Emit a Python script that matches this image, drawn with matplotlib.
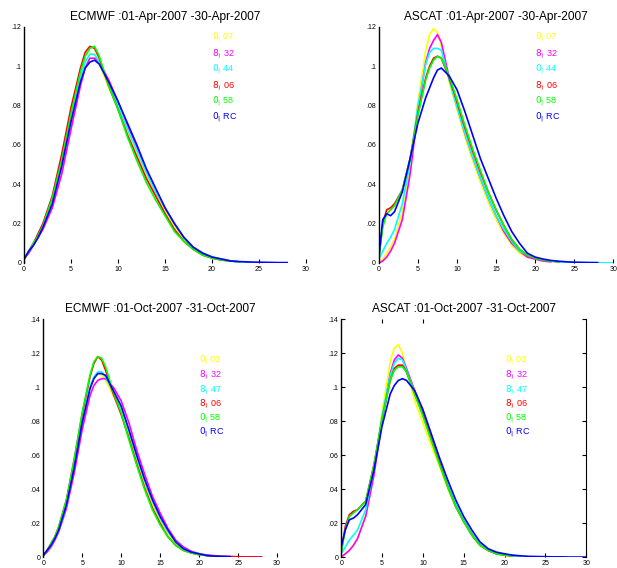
import numpy as np
import matplotlib
matplotlib.use("Agg")
import matplotlib.pyplot as plt

plt.rcParams['font.family'] = ['Liberation Sans', 'DejaVu Sans']

# common wind-speed grid (m/s)
xg = [0, 0.5, 1, 1.5, 2, 3, 4, 5, 6, 6.5, 7, 7.5, 8, 9, 10, 11, 12, 13, 14, 15,
      16, 17, 18, 19, 20, 21, 22, 23, 24, 25, 26, 27, 28, 29, 30]

colors = ['#ffff00', '#ff00ff', '#00ffff', '#ff0000', '#00ff00', '#0000ff']

titles = ["ECMWF :01-Apr-2007 -30-Apr-2007", "ASCAT :01-Apr-2007 -30-Apr-2007",
          "ECMWF :01-Oct-2007 -31-Oct-2007", "ASCAT :01-Oct-2007 -31-Oct-2007"]

labels_apr = ["$0_|$ 07", "$8_)$ 32", "$0_|$ 44", "$8_)$ 06", "$0_|$ 58", "$0_|$ RC"]
labels_oct = ["$0_|$ 03", "$8_)$ 32", "$8_)$ 47", "$8_)$ 06", "$0_|$ 58", "$0_|$ RC"]

# ECMWF April
ecm_apr_y = [0.002, 0.006, 0.010, 0.014, 0.019, 0.031, 0.050, 0.073, 0.094, 0.102, 0.106, 0.106, 0.101, 0.089,
             0.079, 0.066, 0.055, 0.044, 0.035, 0.026, 0.018, 0.012, 0.007, 0.004, 0.0025, 0.0015, 0.001, 0.0005]
ecm_apr_m = [0.002, 0.005, 0.009, 0.013, 0.017, 0.028, 0.045, 0.068, 0.090, 0.099, 0.104, 0.104, 0.102, 0.093,
             0.082, 0.070, 0.059, 0.047, 0.037, 0.028, 0.020, 0.013, 0.008, 0.005, 0.003, 0.002, 0.001, 0.0005]
ecm_apr_c = [0.002, 0.006, 0.010, 0.014, 0.019, 0.031, 0.050, 0.073, 0.094, 0.102, 0.106, 0.106, 0.102, 0.091,
             0.080, 0.068, 0.057, 0.046, 0.036, 0.028, 0.020, 0.013, 0.008, 0.005, 0.003, 0.002, 0.001, 0.0006, 0.0003]
ecm_apr_r = [0.002, 0.006, 0.010, 0.015, 0.020, 0.034, 0.055, 0.079, 0.099, 0.107, 0.110, 0.109, 0.104, 0.090,
             0.078, 0.065, 0.054, 0.043, 0.034, 0.025, 0.017, 0.011, 0.007, 0.004, 0.0025, 0.0015, 0.001]
ecm_apr_g = [0.002, 0.006, 0.010, 0.014, 0.019, 0.033, 0.052, 0.076, 0.097, 0.105, 0.109, 0.110, 0.105, 0.090,
             0.078, 0.064, 0.052, 0.041, 0.032, 0.024, 0.016, 0.011, 0.007, 0.004, 0.0025, 0.0015, 0.001, 0.0005]
ecm_apr_b = [0.002, 0.006, 0.009, 0.013, 0.018, 0.030, 0.049, 0.072, 0.092, 0.099, 0.102, 0.103, 0.101, 0.092,
             0.082, 0.071, 0.060, 0.048, 0.038, 0.028, 0.020, 0.013, 0.008, 0.005, 0.003, 0.002, 0.001, 0.0007,
             0.0005, 0.0004, 0.0003, 0.0002, 0.0002]

# ASCAT April
asc_apr_y = [0.000, 0.002, 0.005, 0.008, 0.012, 0.026, 0.048, 0.082, 0.108, 0.116, 0.119, 0.117, 0.110, 0.092,
             0.078, 0.064, 0.052, 0.041, 0.031, 0.022, 0.015, 0.009, 0.005, 0.003, 0.002, 0.001, 0.0006]
asc_apr_m = [0.000, 0.001, 0.003, 0.006, 0.010, 0.022, 0.045, 0.077, 0.102, 0.109, 0.113, 0.116, 0.112, 0.094,
             0.080, 0.066, 0.054, 0.043, 0.033, 0.024, 0.016, 0.010, 0.006, 0.003, 0.002, 0.001, 0.0006]
asc_apr_c = [0.002, 0.006, 0.010, 0.013, 0.017, 0.030, 0.051, 0.080, 0.101, 0.107, 0.109, 0.109, 0.108, 0.093,
             0.079, 0.066, 0.054, 0.043, 0.033, 0.024, 0.017, 0.011, 0.006, 0.004, 0.0025, 0.0015, 0.001, 0.0006,
             0.0004, 0.0003, 0.0002, 0.0002, 0.0001, 0.0001, 0.0001]
asc_apr_r = [0.003, 0.020, 0.027, 0.028, 0.030, 0.037, 0.053, 0.076, 0.094, 0.100, 0.104, 0.105, 0.104, 0.094,
             0.082, 0.069, 0.057, 0.046, 0.036, 0.027, 0.019, 0.012, 0.007, 0.004, 0.0025, 0.0015, 0.001, 0.0006]
asc_apr_g = [0.003, 0.018, 0.025, 0.027, 0.029, 0.037, 0.053, 0.075, 0.093, 0.099, 0.103, 0.105, 0.104, 0.095,
             0.083, 0.070, 0.058, 0.047, 0.036, 0.027, 0.019, 0.012, 0.007, 0.004, 0.0025, 0.0015, 0.001, 0.0006]
asc_apr_b = [0.003, 0.022, 0.025, 0.024, 0.026, 0.036, 0.053, 0.071, 0.084, 0.089, 0.094, 0.098, 0.099, 0.095,
             0.088, 0.077, 0.065, 0.053, 0.043, 0.033, 0.024, 0.016, 0.010, 0.005, 0.003, 0.002, 0.0013, 0.0009,
             0.0006, 0.0004, 0.0003, 0.0002, 0.0002]

# ECMWF October
ecm_oct_y = [0.001, 0.004, 0.007, 0.011, 0.016, 0.031, 0.054, 0.080, 0.100, 0.105, 0.108, 0.107, 0.104, 0.095,
             0.086, 0.072, 0.057, 0.043, 0.031, 0.022, 0.014, 0.008, 0.005, 0.003, 0.002, 0.001, 0.0006]
ecm_oct_m = [0.001, 0.003, 0.006, 0.010, 0.015, 0.029, 0.050, 0.075, 0.095, 0.101, 0.104, 0.105, 0.105, 0.100,
             0.092, 0.079, 0.063, 0.049, 0.036, 0.026, 0.017, 0.010, 0.006, 0.0035, 0.002, 0.0013, 0.0009, 0.0006,
             0.0004, 0.0003, 0.0002, 0.0002, 0.0001]
ecm_oct_c = [0.001, 0.004, 0.007, 0.011, 0.016, 0.031, 0.054, 0.080, 0.100, 0.106, 0.109, 0.109, 0.106, 0.097,
             0.088, 0.074, 0.059, 0.045, 0.033, 0.023, 0.015, 0.009, 0.005, 0.003, 0.002, 0.001, 0.0006, 0.0004]
ecm_oct_r = [0.001, 0.004, 0.008, 0.012, 0.018, 0.034, 0.058, 0.084, 0.106, 0.114, 0.118, 0.116, 0.110, 0.096,
             0.084, 0.070, 0.055, 0.041, 0.029, 0.020, 0.012, 0.007, 0.004, 0.0025, 0.0015, 0.001, 0.0006, 0.0004,
             0.0003, 0.0002, 0.0002, 0.0001, 0.0001]
ecm_oct_g = [0.001, 0.004, 0.008, 0.012, 0.018, 0.034, 0.058, 0.085, 0.107, 0.115, 0.118, 0.117, 0.112, 0.097,
             0.085, 0.069, 0.054, 0.040, 0.028, 0.019, 0.012, 0.007, 0.004, 0.0025, 0.0015, 0.001, 0.0006]
ecm_oct_b = [0.001, 0.004, 0.007, 0.011, 0.016, 0.031, 0.053, 0.079, 0.099, 0.105, 0.108, 0.108, 0.107, 0.098,
             0.089, 0.075, 0.060, 0.046, 0.034, 0.024, 0.016, 0.009, 0.005, 0.003, 0.002, 0.001, 0.0006, 0.0004,
             0.0003]

# ASCAT October
asc_oct_y = [0.000, 0.002, 0.004, 0.007, 0.011, 0.025, 0.050, 0.085, 0.115, 0.123, 0.125, 0.120, 0.110, 0.092,
             0.079, 0.066, 0.054, 0.041, 0.030, 0.021, 0.013, 0.007, 0.004, 0.002, 0.001, 0.0006]
asc_oct_m = [0.000, 0.002, 0.004, 0.007, 0.011, 0.024, 0.048, 0.080, 0.108, 0.116, 0.119, 0.117, 0.111, 0.098,
             0.086, 0.072, 0.058, 0.044, 0.032, 0.022, 0.014, 0.008, 0.004, 0.0025, 0.0015, 0.001, 0.0006]
asc_oct_c = [0.002, 0.006, 0.010, 0.013, 0.016, 0.028, 0.052, 0.083, 0.107, 0.114, 0.117, 0.116, 0.110, 0.097,
             0.085, 0.071, 0.057, 0.044, 0.032, 0.022, 0.014, 0.008, 0.004, 0.0025, 0.0015, 0.001, 0.0006]
asc_oct_r = [0.003, 0.018, 0.025, 0.027, 0.028, 0.033, 0.054, 0.081, 0.104, 0.111, 0.113, 0.113, 0.109, 0.096,
             0.084, 0.070, 0.056, 0.042, 0.030, 0.021, 0.013, 0.007, 0.004, 0.002, 0.0012, 0.0007]
asc_oct_g = [0.003, 0.016, 0.024, 0.026, 0.028, 0.033, 0.054, 0.081, 0.104, 0.110, 0.112, 0.112, 0.109, 0.096,
             0.083, 0.069, 0.055, 0.042, 0.030, 0.021, 0.013, 0.007, 0.004, 0.002, 0.0012, 0.0007]
asc_oct_b = [0.006, 0.016, 0.022, 0.023, 0.025, 0.031, 0.051, 0.077, 0.096, 0.101, 0.104, 0.105, 0.104, 0.098,
             0.087, 0.073, 0.059, 0.046, 0.034, 0.024, 0.016, 0.009, 0.005, 0.003, 0.002, 0.0012, 0.0008, 0.0005,
             0.0004, 0.0003, 0.0002, 0.0002, 0.0001, 0.0001, 0.0001]

panels = [
    [ecm_apr_y, ecm_apr_m, ecm_apr_c, ecm_apr_r, ecm_apr_g, ecm_apr_b],
    [asc_apr_y, asc_apr_m, asc_apr_c, asc_apr_r, asc_apr_g, asc_apr_b],
    [ecm_oct_y, ecm_oct_m, ecm_oct_c, ecm_oct_r, ecm_oct_g, ecm_oct_b],
    [asc_oct_y, asc_oct_m, asc_oct_c, asc_oct_r, asc_oct_g, asc_oct_b],
]

ymax = [0.12, 0.12, 0.14, 0.14]
yticks_apr = [0, 0.02, 0.04, 0.06, 0.08, 0.1, 0.12]
yticks_oct = [0, 0.02, 0.04, 0.06, 0.08, 0.1, 0.12, 0.14]
xticks = [0, 5, 10, 15, 20, 25, 30]

# axes boxes [left, bottom, width, height] in figure fraction
boxes = [
    [0.039, 0.537, 0.457, 0.416],
    [0.614, 0.537, 0.380, 0.416],
    [0.070, 0.019, 0.379, 0.419],
    [0.553, 0.019, 0.397, 0.419],
]

fig = plt.figure(figsize=(6.17, 5.68), dpi=100)

for i in range(4):
    ax = fig.add_axes(boxes[i])
    for vals, col in zip(panels[i], colors):
        ax.plot(xg[:len(vals)], vals, color=col, lw=1.2)
    ax.set_xlim(0, 30)
    ax.set_ylim(0, ymax[i])
    yt = yticks_apr if i < 2 else yticks_oct
    ax.set_yticks(yt)
    ax.set_yticklabels(["0" if v == 0 else ("%.2f" % v).lstrip("0").rstrip("0").rstrip(".") for v in yt])
    ax.set_xticks(xticks)
    ax.set_xticklabels([str(v) for v in xticks])
    ax.tick_params(axis='both', direction='in', length=3, width=0.8, labelsize=5, pad=2)
    ax.tick_params(axis='y', length=0)
    for s in ['top', 'right', 'bottom']:
        ax.spines[s].set_visible(False)
    ax.spines['left'].set_linewidth(1.0)
    if i == 3:
        ax.spines['right'].set_visible(True)
        ax.tick_params(axis='y', right=True, length=3)
        sec = ax.secondary_xaxis('top')
        sec.set_xticks([5, 10])
        sec.set_xticklabels([])
        sec.tick_params(direction='in', length=3)
        sec.spines['top'].set_visible(False)
    ax.set_title(titles[i], fontsize=8.6, pad=5)

    labs = labels_apr if i < 2 else labels_oct
    y0 = 0.1145 if i < 2 else 0.1155
    dy = 0.0082 if i < 2 else 0.0085
    for k, (lab, col) in enumerate(zip(labs, colors)):
        ax.text(20, y0 - k * dy, lab, color=col, fontsize=6.5, va='center', ha='left')

fig.savefig("out.png", dpi=100)
